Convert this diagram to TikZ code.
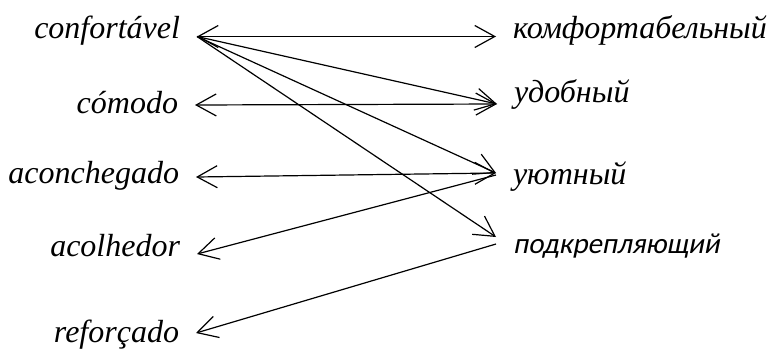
\documentclass[tikz,border=0pt]{standalone}
\usepackage{fontspec}
\setmainfont{Liberation Serif}
\newfontfamily\calfont[FakeSlant=0.2]{Carlito}
\usetikzlibrary{arrows.meta,calc}

\begin{document}
\begin{tikzpicture}[x=0.5pt, y=-0.5pt, line width=0.6pt,
    every node/.style={font=\fontsize{16}{19}\selectfont\itshape, inner sep=0pt, outer xsep=8.5pt},
    lword/.style={anchor=base east},
    rword/.style={anchor=base west},
    link/.style={-{Straight Barb[length=10pt,width=11pt]}},
    both/.style={{Straight Barb[length=10pt,width=11pt]}-{Straight Barb[length=10pt,width=11pt]}}]
    \useasboundingbox (0,0) rectangle (774,349);

    % Portuguese words
    \node[lword] (cf) at (197,38) {confortável};
    \node[lword] (co) at (195,113) {cómodo};
    \node[lword] (ac) at (196,183) {aconchegado};
    \node[lword] (al) at (197,256) {acolhedor};
    \node[lword] (rf) at (196,342) {reforçado};

    % Russian words
    \node[rword] (km) at (496,38) {комфортабельный};
    \node[rword] (ud) at (497,102) {удобный};
    \node[rword] (ut) at (496,184) {уютный};
    \node[rword] (pd) at (496,253) {\calfont\upshape\fontsize{14.5}{17}\selectfont подкрепляющий};

    \draw[both] ($(cf.base east)+(0,-1.5)$) -- ($(km.base west)+(0,-1.5)$);
    \draw[link] ($(cf.base east)+(0,-1.5)$) -- ($(ud.base west)+(0,2)$);
    \draw[link] ($(cf.base east)+(0,-1.5)$) -- ($(ut.base west)+(0,-11)$);
    \draw[link] ($(cf.base east)+(0,-1.5)$) -- ($(pd.base west)+(0,-16)$);
    \draw[both] ($(co.base east)+(0,-8)$) -- ($(ud.base west)+(0,2)$);
    \draw[both] ($(ac.base east)+(0,-6)$) -- ($(ut.base west)+(0,-11)$);
    \draw[link] ($(ut.base west)+(0,-9)$) -- ($(al.base east)+(0,-2)$);
    \draw[link] ($(pd.base west)+(0,-9)$) -- ($(rf.base east)+(0,-9)$);
\end{tikzpicture}
\end{document}
